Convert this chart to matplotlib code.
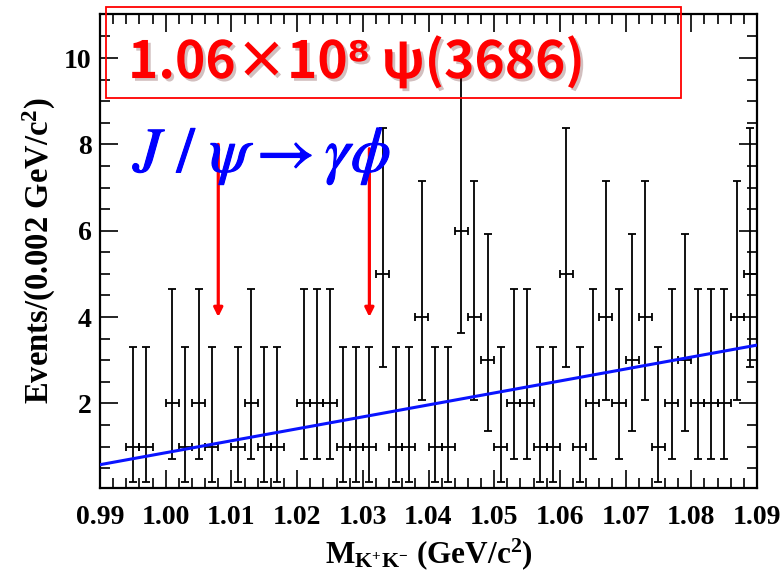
import numpy as np
import matplotlib
matplotlib.use('Agg')
import matplotlib.pyplot as plt
from matplotlib.patches import Rectangle
import matplotlib.patheffects as pe

# histogram: M(K+K-) from 0.99 to 1.09 GeV/c2, 0.002 per bin
bin_lo = 0.99
bin_width = 0.002
counts = [0, 0, 1, 1, 0, 2, 1, 2, 1, 0,
          1, 2, 1, 1, 0, 2, 2, 2, 1, 1,
          1, 5, 1, 1, 4, 1, 1, 6, 4, 3,
          1, 2, 2, 1, 1, 5, 1, 2, 4, 2,
          3, 4, 1, 2, 3, 2, 2, 2, 4, 5]

# asymmetric poisson error bars as drawn (index = number of events)
err_low = [0, 0.83, 1.29, 1.63, 1.91, 2.16, 2.38]
err_high = [0, 2.30, 2.64, 2.92, 3.16, 3.38, 3.58]

# background fit line
fit_x = [0.99, 1.09]
fit_y = [0.58, 3.35]

# red arrows (phi mass window)
arrow_x = [1.008, 1.031]
arrow_top = [8.0, 7.9]
arrow_tip = 4.0

plt.rcParams['font.family'] = ['Liberation Serif', 'DejaVu Serif']
plt.rcParams['mathtext.fontset'] = 'custom'
plt.rcParams['mathtext.rm'] = 'Liberation Serif:bold'
plt.rcParams['mathtext.bf'] = 'Liberation Serif:bold'
plt.rcParams['mathtext.it'] = 'Liberation Serif:bold:italic'

fig = plt.figure(figsize=(7.84, 5.78), dpi=100)
ax = fig.add_axes([100/784, 90/578, 657/784, 474/578])

counts = np.array(counts)
centers = bin_lo + bin_width*(np.arange(len(counts)) + 0.5)
m = counts > 0
lo = np.array([err_low[c] for c in counts[m]])
hi = np.array([err_high[c] for c in counts[m]])
ax.errorbar(centers[m], counts[m], yerr=[lo, hi], xerr=bin_width/2,
            fmt='none', ecolor='black', elinewidth=1.3, capsize=3, capthick=1.3, zorder=2)

ax.plot(fit_x, fit_y, color='#0a14ff', lw=2.2, zorder=3)

for x, top in zip(arrow_x, arrow_top):
    ax.annotate('', xy=(x, arrow_tip), xytext=(x, top),
                arrowprops=dict(arrowstyle='-|>', color='red', lw=2.3,
                                mutation_scale=13, shrinkA=0, shrinkB=0), zorder=4)

ax.set_xlim(0.99, 1.09)
ax.set_ylim(0.04, 11.02)
xt = np.arange(0.99, 1.0901, 0.01)
ax.set_xticks(xt)
ax.set_xticks(np.arange(0.99, 1.0901, 0.002), minor=True)
ax.set_xticklabels(['%.2f' % v for v in xt], fontweight='bold')
ax.set_yticks([2, 4, 6, 8, 10])
ax.set_yticklabels(['2', '4', '6', '8', '10'], fontweight='bold')
ax.set_yticks(np.arange(0.5, 11.0, 0.5), minor=True)
ax.tick_params(which='both', direction='in', top=True, right=True, width=1.2, labelsize=20)
ax.tick_params(which='major', length=13)
ax.tick_params(which='minor', length=7)
ax.tick_params(axis='x', pad=12)
ax.tick_params(axis='y', pad=6)
for s in ax.spines.values():
    s.set_linewidth(1.6)

ax.set_xlabel(r'M$_{\rm K^{+}K^{-}}$ (GeV/c$^{\rm 2}$)', fontsize=22.5, fontweight='bold', labelpad=5)
ax.set_ylabel(r'Events/(0.002 GeV/c$^{\rm 2}$)', fontsize=23.5, fontweight='bold', labelpad=4)

# labels on top
jt = fig.text(133/784, 1 - 172/578, r'$J\ /\ \psi \rightarrow \gamma\phi$', color='#0000ff',
              fontsize=46, math_fontfamily='stix', ha='left', va='baseline', zorder=5)
jt.set_path_effects([pe.withStroke(linewidth=0.8, foreground='#0000ff')])

fig.patches.append(Rectangle((106/784, 1 - 98/578), 575/784, 91/578, transform=fig.transFigure,
                             fill=False, edgecolor='red', lw=1.3, zorder=6))
t = fig.text(128/784, 1 - 62/578, '1.06×10⁸ ψ(3686)', color='red', fontsize=37,
             family=['Noto Sans CJK SC', 'DejaVu Sans'], fontweight='bold',
             ha='left', va='center', zorder=6)
t.set_path_effects([pe.SimplePatchShadow(offset=(2, -2), alpha=0.25), pe.Normal()])

fig.savefig('out.png', dpi=100)
